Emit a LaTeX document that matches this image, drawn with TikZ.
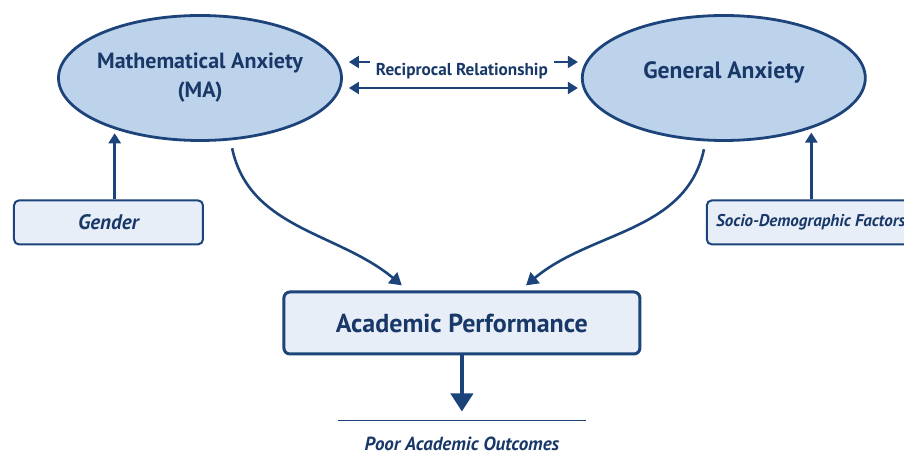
\documentclass[tikz,border=0pt]{standalone}
\usepackage{fontspec}
\setmainfont{PT Sans}
\usetikzlibrary{positioning, arrows.meta, shapes.geometric, calc}
\definecolor{navy}{RGB}{28,68,122}
\definecolor{skyfill}{RGB}{189,211,235}
\definecolor{boxfill}{RGB}{231,238,248}
\definecolor{inkblue}{RGB}{24,56,104}
\tikzset{
>={Triangle[width=6pt,length=5pt]}, % small filled heads
every node/.style={text=inkblue, font=\bfseries}, % all labels in dark blue
anxiety/.style={ellipse, draw=navy, line width=1.4pt, fill=skyfill, minimum width=141.5pt, minimum height=62.5pt, align=center, inner sep=-6pt}, % the two anxiety bubbles
factor/.style={rectangle, rounded corners=2.5pt, draw=navy, line width=1pt, fill=boxfill, minimum height=22pt, font=\bfseries\itshape\fontsize{10.5}{12}\selectfont}, % boxes that feed an anxiety
link/.style={draw=navy, line width=1.3pt, -{Triangle[width=7pt,length=6pt]}}, % influence arrows
}

\begin{document}
\begin{tikzpicture}
\useasboundingbox (-100pt,39pt) rectangle (352pt,-187.5pt);
      \node[anxiety, font=\bfseries\fontsize{11}{14.5}\selectfont] (ma) at (0,0) {Mathematical Anxiety\\(MA)};
      \node[anxiety, right=119pt of ma, font=\bfseries\fontsize{11.8}{13}\selectfont] (ga) {\raisebox{8pt}{General Anxiety}};
      \node[font=\bfseries\fontsize{8.6}{10}\selectfont, inner xsep=3pt] (recip) at ($(ma.east)!.5!(ga.west)+(0,3.5pt)$) {Reciprocal Relationship};

      \node[factor, below=28.75pt of ma, xshift=-45.75pt, minimum width=94.5pt] (gender) {Gender};
      \node[factor, below=28.75pt of ga, xshift=43.5pt, minimum width=104pt, inner xsep=1pt, font=\bfseries\itshape\fontsize{8.5}{10}\selectfont] (socio) {Socio-Demographic Factors};

      \node[draw=navy, line width=1.5pt, rounded corners=3pt, fill=boxfill, minimum width=178pt, minimum height=31pt, font=\bfseries\fontsize{13}{15}\selectfont] (perf) at ($(ma)!.5!(ga)+(0,-122.5pt)$) {Academic Performance};
      \node[below=32.5pt of perf, minimum width=124pt, minimum height=23pt, inner sep=0pt, font=\bfseries\itshape\fontsize{9.5}{11}\selectfont] (poor) {Poor Academic Outcomes};
      \draw[navy, line width=0.6pt] (poor.north west) -- (poor.north east);

      % both anxieties act on performance
      \draw[link, shorten <=4pt, shorten >=4pt] (ma.296) to[out=-78, in=140] ([xshift=-27pt]perf.north);
      \draw[link, shorten <=4pt, shorten >=4pt] (ga.254) to[out=-102, in=40] ([xshift=29pt]perf.north);
      \draw[link, ->, shorten >=2pt] (gender.north -| ma.211) -- (ma.211);
      \draw[link, ->, shorten >=2pt] (socio.north -| ga.330) -- (ga.330);

      % two-way link between the anxieties
      \draw[navy, line width=1pt, <->, shorten <=3pt, shorten >=1.5pt] ([yshift=-5pt]ma.east) -- ([yshift=-5pt]ga.west);
      \draw[navy, line width=1pt, ->, shorten >=3pt] ([yshift=4.5pt]recip.west) -- ([yshift=8pt]ma.east);
      \draw[navy, line width=1pt, ->, shorten >=1.5pt] ([yshift=4.5pt]recip.east) -- ([yshift=8pt]ga.west);

      \draw[navy, line width=2pt, -{Triangle[width=11pt,length=9pt]}, shorten >=4.5pt] (perf) -- (poor);
\end{tikzpicture}
\end{document}
